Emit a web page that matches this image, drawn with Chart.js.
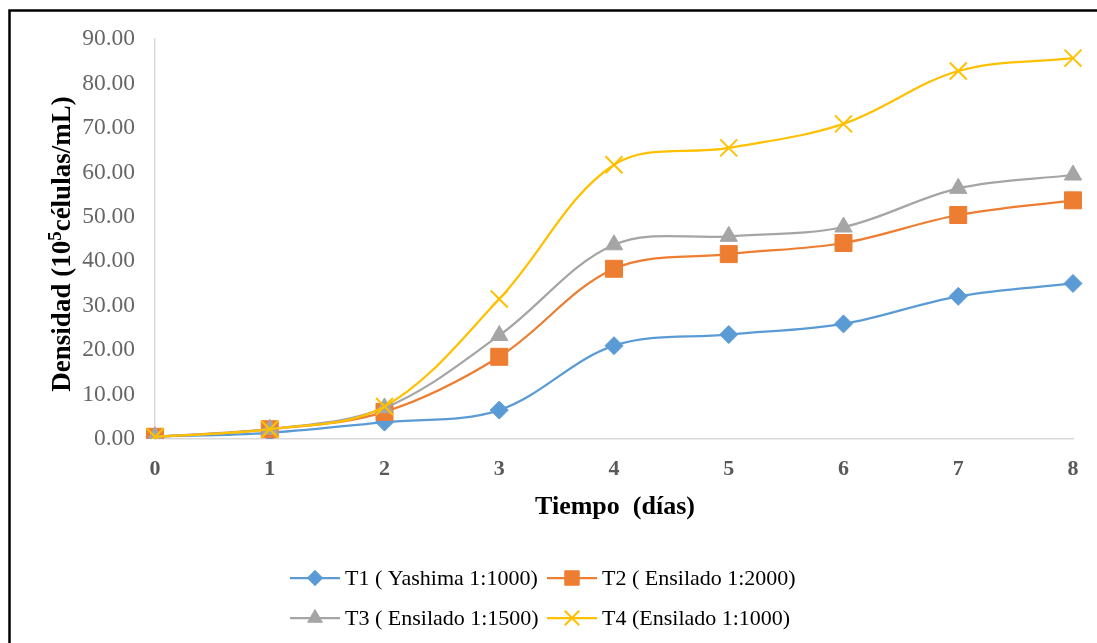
<!DOCTYPE html>
<html>
<head>
<meta charset="utf-8">
<script src="https://cdn.jsdelivr.net/npm/chart.js@4.4.1/dist/chart.umd.min.js"></script>
<style>
  html, body { margin: 0; padding: 0; background: #fff; }
  #wrap { position: relative; width: 1097px; height: 643px; }
</style>
</head>
<body>
<div id="wrap"><canvas id="densidad" width="1097" height="643"></canvas></div>
<script>
// days of culture and cell density (10^5 cells/mL) per treatment
var dias = ['0', '1', '2', '3', '4', '5', '6', '7', '8'];
var t1 = [0.5, 1.4, 3.8, 6.5, 21.0, 23.5, 25.9, 32.1, 35.0];
var t2 = [0.5, 2.2, 6.1, 18.5, 38.3, 41.6, 44.1, 50.4, 53.7];
var t3 = [0.5, 2.2, 7.0, 23.3, 43.7, 45.6, 47.7, 56.4, 59.4];
var t4 = [0.5, 2.2, 7.3, 31.5, 61.7, 65.5, 70.9, 82.8, 85.7];
var nombres = ['T1 ( Yashima 1:1000)', 'T2 ( Ensilado 1:2000)', 'T3 ( Ensilado 1:1500)', 'T4 (Ensilado 1:1000)'];

var colores = ['#5b9bd5', '#ed7d31', '#a5a5a5', '#ffc000'];
var marcas = ['rectRot', 'rect', 'triangle', 'crossRot'];
var radios = [9, 12, 10, 12];
var serif = "'Liberation Serif', 'Times New Roman', serif";

function serie(i, data) {
  return {
    label: nombres[i],
    data: data,
    borderColor: colores[i],
    backgroundColor: colores[i],
    pointBorderColor: colores[i],
    pointBackgroundColor: colores[i],
    pointStyle: marcas[i],
    pointRadius: radios[i],
    pointBorderWidth: i === 3 ? 2 : 1,
    borderWidth: 2.25,
    tension: 0.35,
    fill: false,
    order: 4 - i
  };
}

// frame, axis titles and the two-row legend
var extras = {
  id: 'extras',
  afterDraw: function(chart) {
    var ctx = chart.ctx;
    ctx.save();
    ctx.strokeStyle = '#000';
    ctx.lineWidth = 2.5;
    ctx.beginPath();
    ctx.moveTo(9.5, 643);
    ctx.lineTo(9.5, 10.5);
    ctx.lineTo(1097, 10.5);
    ctx.stroke();

    // x title
    ctx.fillStyle = '#000';
    ctx.font = 'bold 26px ' + serif;
    ctx.textAlign = 'center';
    ctx.textBaseline = 'middle';
    ctx.fillText('Tiempo  (días)', 615, 507);

    // y title with superscript exponent
    var a = 'Densidad (10', b = '5', c = 'células/mL)';
    var big = 'bold 27px ' + serif, small = 'bold 19px ' + serif;
    ctx.font = big; var wa = ctx.measureText(a).width, wc = ctx.measureText(c).width;
    ctx.font = small; var wb = ctx.measureText(b).width;
    var total = wa + wb + wc;
    ctx.translate(62, 244);
    ctx.rotate(-Math.PI / 2);
    ctx.textAlign = 'left';
    ctx.textBaseline = 'middle';
    var x0 = -total / 2;
    ctx.font = big; ctx.fillText(a, x0, 1);
    ctx.font = small; ctx.fillText(b, x0 + wa, -6);
    ctx.font = big; ctx.fillText(c, x0 + wa + wb, 1);
    ctx.setTransform(1, 0, 0, 1, 0, 0);

    // legend
    var pos = [[290, 578], [547, 578], [290, 618], [547, 618]];
    ctx.font = '22px ' + serif;
    ctx.textBaseline = 'middle';
    ctx.textAlign = 'left';
    for (var i = 0; i < 4; i++) {
      var px = pos[i][0], py = pos[i][1];
      ctx.strokeStyle = colores[i];
      ctx.lineWidth = 2.25;
      ctx.beginPath();
      ctx.moveTo(px, py);
      ctx.lineTo(px + 50, py);
      ctx.stroke();
      ctx.fillStyle = colores[i];
      ctx.lineWidth = i === 3 ? 2 : 1;
      Chart.helpers.drawPoint(ctx, {pointStyle: marcas[i], radius: radios[i] * 0.85, rotation: 0, borderWidth: ctx.lineWidth}, px + 25, py);
      ctx.fillStyle = '#000';
      ctx.fillText(nombres[i], px + 55, py + 1);
    }
    ctx.restore();
  }
};

Chart.defaults.font.family = serif;

new Chart('densidad', {
  type: 'line',
  data: {
    labels: dias,
    datasets: [serie(0, t1), serie(1, t2), serie(2, t3), serie(3, t4)]
  },
  options: {
    responsive: false,
    animation: false,
    layout: { padding: { left: 0, top: 39, right: 24, bottom: 0 } },
    plugins: {
      legend: { display: false },
      tooltip: { enabled: false }
    },
    scales: {
      x: {
        offset: false,
        grid: { display: false, drawTicks: false },
        border: { display: true, color: '#d9d9d9', width: 1.5 },
        ticks: {
          color: '#595959',
          padding: 17,
          maxRotation: 0,
          font: { size: 22, weight: 'bold', family: serif }
        },
        afterFit: function(scale) { scale.height = 643 - 439; }
      },
      y: {
        min: 0,
        max: 90,
        grid: { display: false, drawTicks: false },
        border: { display: true, color: '#d9d9d9', width: 1.5 },
        ticks: {
          stepSize: 10,
          color: '#666666',
          padding: 20,
          font: { size: 23.5, family: serif },
          callback: function(v) { return v.toFixed(2); }
        },
        afterFit: function(scale) { scale.width = 155; }
      }
    }
  },
  plugins: [extras]
});
</script>
</body>
</html>
